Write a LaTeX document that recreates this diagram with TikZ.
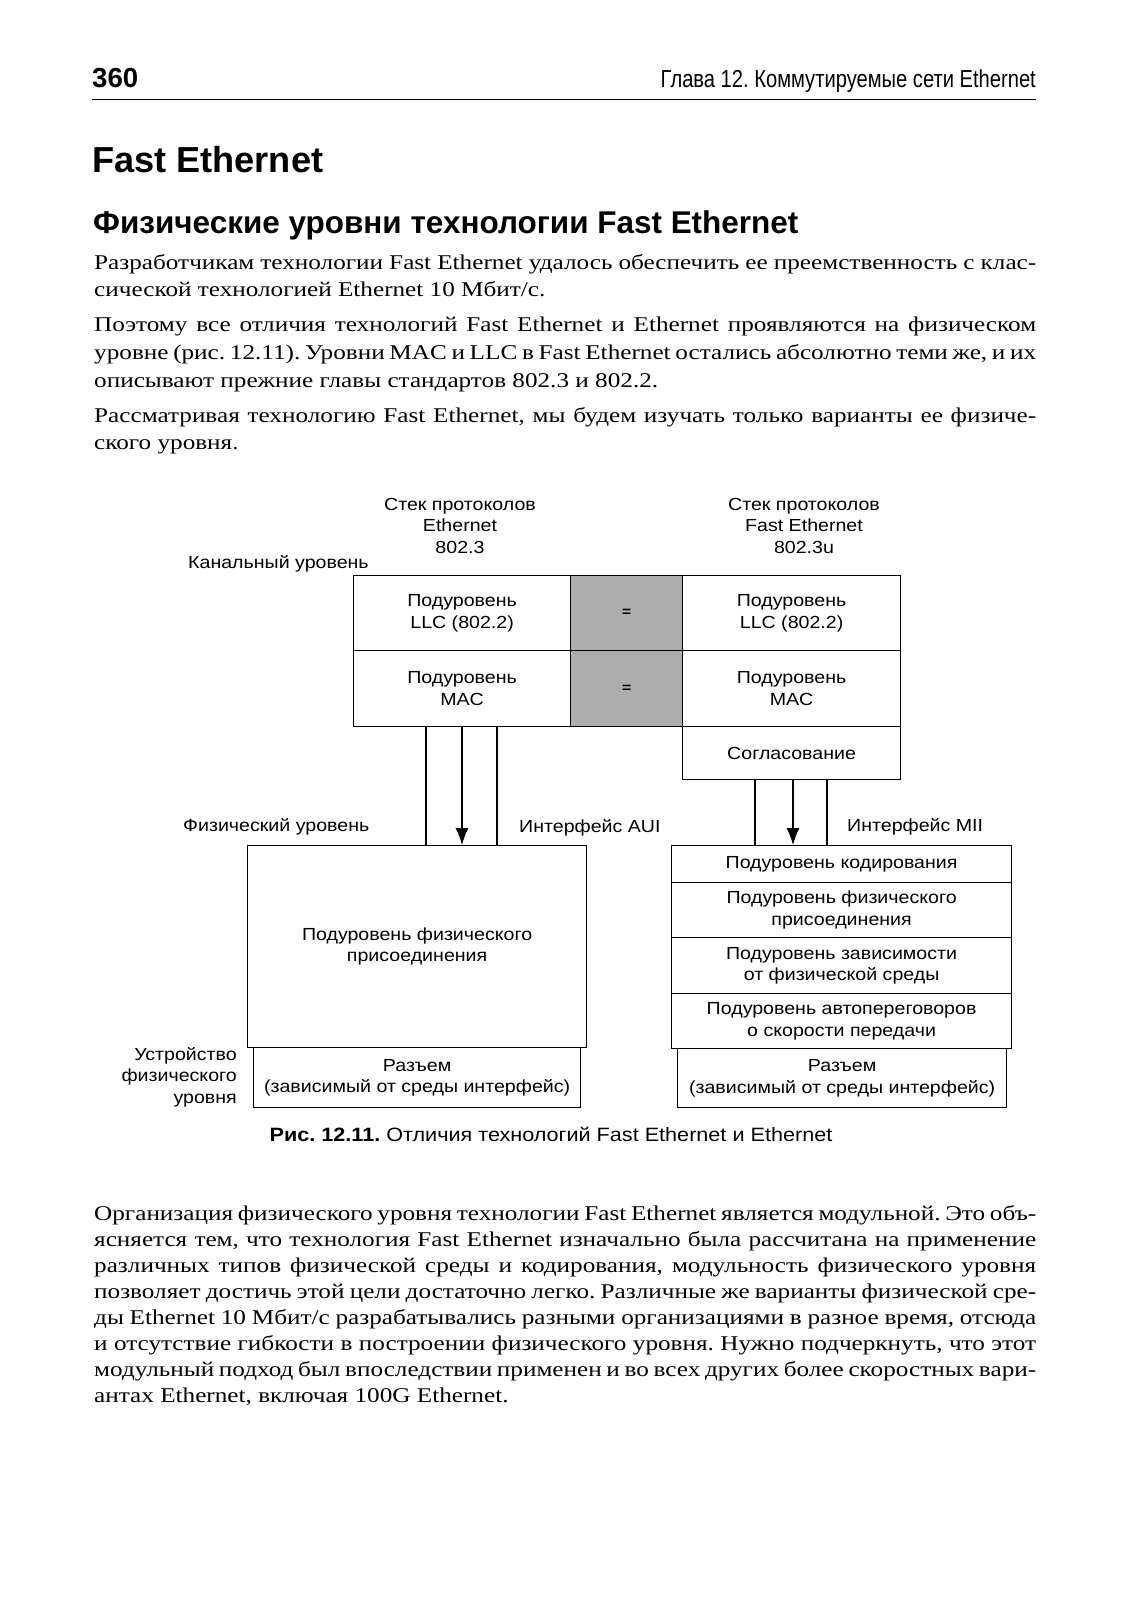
\documentclass[tikz,border=0pt]{standalone}
\usepackage{graphicx}
\usepackage{fontspec}
\setmainfont{Liberation Serif}[FakeStretch=1.2]
\newfontfamily\dg{Liberation Sans}[FakeStretch=1.12]
\newfontfamily\hd{Liberation Sans}
\newfontfamily\nar{Liberation Sans}[FakeStretch=0.82]
\usetikzlibrary{arrows.meta}
\newcommand\bodyline[1]{\makebox[942pt][s]{#1}}
\frenchspacing
\begin{document}
\begin{tikzpicture}[x=1pt,y=-1pt,
  dgfont/.style={font=\dg\fontsize{17.5}{21.5}\selectfont},
  box/.style={draw, line width=1.2pt, inner sep=0pt, anchor=north west, align=center, dgfont},
  graybox/.style={box, fill=black!32},
  lbl/.style={inner sep=0pt, dgfont},
  body/.style={inner sep=0pt, anchor=base west, font=\frenchspacing\fontsize{21}{26}\selectfont},
  wire/.style={line width=1.2pt},
  arr/.style={line width=1.2pt, -{Latex[length=17pt,width=13pt]}}]
\useasboundingbox (0,0) rectangle (1130,1600);
\fill[white] (0,0) rectangle (1130,1600);

% running header
\node[inner sep=0pt, anchor=base west] (pg) at (92,88) {\resizebox{46pt}{!}{\hd\bfseries 360}};
\node[inner sep=0pt, anchor=base east] (hdr) at (1036,88) {\resizebox{375pt}{!}{\nar Глава 12. Коммутируемые сети Ethernet}};
\coordinate (ruleA) at (92,99.5);
\coordinate (ruleB) at (1036,99.5);
\draw[line width=1.5pt] (ruleA) -- (ruleB);

% headings
\node[inner sep=0pt, anchor=base west] (h1) at (92,172) {\resizebox{231pt}{!}{\hd\bfseries Fast Ethernet}};
\node[inner sep=0pt, anchor=base west] (h2) at (93,233) {\resizebox{705pt}{!}{\hd\bfseries Физические уровни технологии Fast Ethernet}};

% body text
\node[body] (p1a) at (94,269) {\bodyline{Разработчикам технологии Fast Ethernet удалось обеспечить ее преемственность с клас-}};
\node[body] (p1b) at (94,296.5) {сической технологией Ethernet 10 Мбит/с.};
\node[body] (p2a) at (94,331) {\bodyline{Поэтому все отличия технологий Fast Ethernet и Ethernet проявляются на физическом}};
\node[body] (p2b) at (94,359) {\bodyline{уровне (рис. 12.11). Уровни MAC и LLC в Fast Ethernet остались абсолютно теми же, и их}};
\node[body] (p2c) at (94,387) {описывают прежние главы стандартов 802.3 и 802.2.};
\node[body] (p3a) at (94,422) {\bodyline{Рассматривая технологию Fast Ethernet, мы будем изучать только варианты ее физиче-}};
\node[body] (p3b) at (94,449) {ского уровня.};

% diagram: column titles
\node[lbl, align=center, anchor=base] (stL) at (460,553) {Стек протоколов\\Ethernet\\802.3};
\node[lbl, align=center, anchor=base] (stR) at (804,553) {Стек протоколов\\Fast Ethernet\\802.3u};
\node[lbl, anchor=base west] (kan) at (188,568) {Канальный уровень};

% upper boxes
\node[box, minimum width=217pt, minimum height=75pt] (llcL) at (353,575) {Подуровень\\LLC (802.2)};
\node[graybox, minimum width=112pt, minimum height=75pt] (g1) at (570,575) {};
\node[box, minimum width=218pt, minimum height=75pt] (llcR) at (682,575) {Подуровень\\LLC (802.2)};
\node[box, minimum width=217pt, minimum height=76pt] (macL) at (353,650) {Подуровень\\MAC};
\node[graybox, minimum width=112pt, minimum height=76pt] (g2) at (570,650) {};
\node[box, minimum width=218pt, minimum height=76pt] (macR) at (682,650) {Подуровень\\MAC};
\node[box, minimum width=218pt, minimum height=53pt] (sogl) at (682,726) {Согласование};
\node[inner sep=0pt, font=\dg\bfseries\fontsize{14}{14}\selectfont] (eq1) at (g1.center) {=};
\node[inner sep=0pt, font=\dg\bfseries\fontsize{14}{14}\selectfont] (eq2) at (g2.center) {=};

% labels of the physical level
\node[lbl, anchor=base west] (fiz) at (183,831) {Физический уровень};
\node[lbl, anchor=base west] (aui) at (519,832) {Интерфейс AUI};
\node[lbl, anchor=base west] (mii) at (847,831) {Интерфейс MII};

% lower left
\node[box, minimum width=339pt, minimum height=202pt] (physL) at (247,845) {Подуровень физического\\присоединения};
\node[box, minimum width=327pt, minimum height=60pt] (connL) at (253,1047) {Разъем\\(зависимый от среды интерфейс)};
\node[lbl, align=right, anchor=base east] (dev) at (237,1103) {Устройство\\физического\\уровня};

% lower right
\node[box, minimum width=340pt, minimum height=37pt] (r1) at (671,845) {Подуровень кодирования};
\node[box, minimum width=340pt, minimum height=55pt] (r2) at (671,882) {Подуровень физического\\присоединения};
\node[box, minimum width=340pt, minimum height=56pt] (r3) at (671,937) {Подуровень зависимости\\от физической среды};
\node[box, minimum width=340pt, minimum height=55pt] (r4) at (671,993) {Подуровень автопереговоров\\о скорости передачи};
\node[box, minimum width=329pt, minimum height=59pt] (connR) at (677,1048) {Разъем\\(зависимый от среды интерфейс)};

% interface wires
\coordinate (aL1) at ([xshift=73pt]macL.south west);
\coordinate (aL2) at ([xshift=109pt]macL.south west);
\coordinate (aL3) at ([xshift=144pt]macL.south west);
\draw[wire] (aL1) -- (aL1 |- physL.north);
\draw[arr] (aL2) -- (aL2 |- physL.north);
\draw[wire] (aL3) -- (aL3 |- physL.north);
\coordinate (aR1) at ([xshift=73pt]sogl.south west);
\coordinate (aR2) at ([xshift=111pt]sogl.south west);
\coordinate (aR3) at ([xshift=145pt]sogl.south west);
\draw[wire] (aR1) -- (aR1 |- r1.north);
\draw[arr] (aR2) -- (aR2 |- r1.north);
\draw[wire] (aR3) -- (aR3 |- r1.north);

% caption
\node[inner sep=0pt, anchor=base] (cap) at (551,1141) {\dg\fontsize{19.3}{22}\selectfont\textbf{Рис. 12.11.} Отличия технологий Fast Ethernet и Ethernet};

% closing paragraph
\node[body] (q1) at (94,1220) {\bodyline{Организация физического уровня технологии Fast Ethernet является модульной. Это объ-}};
\node[body] (q2) at (94,1246) {\bodyline{ясняется тем, что технология Fast Ethernet изначально была рассчитана на применение}};
\node[body] (q3) at (94,1272) {\bodyline{различных типов физической среды и кодирования, модульность физического уровня}};
\node[body] (q4) at (94,1298) {\bodyline{позволяет достичь этой цели достаточно легко. Различные же варианты физической сре-}};
\node[body] (q5) at (94,1324) {\bodyline{ды Ethernet 10 Мбит/с разрабатывались разными организациями в разное время, отсюда}};
\node[body] (q6) at (94,1350) {\bodyline{и отсутствие гибкости в построении физического уровня. Нужно подчеркнуть, что этот}};
\node[body] (q7) at (94,1376) {\bodyline{модульный подход был впоследствии применен и во всех других более скоростных вари-}};
\node[body] (q8) at (94,1402) {антах Ethernet, включая 100G Ethernet.};
\end{tikzpicture}
\end{document}
